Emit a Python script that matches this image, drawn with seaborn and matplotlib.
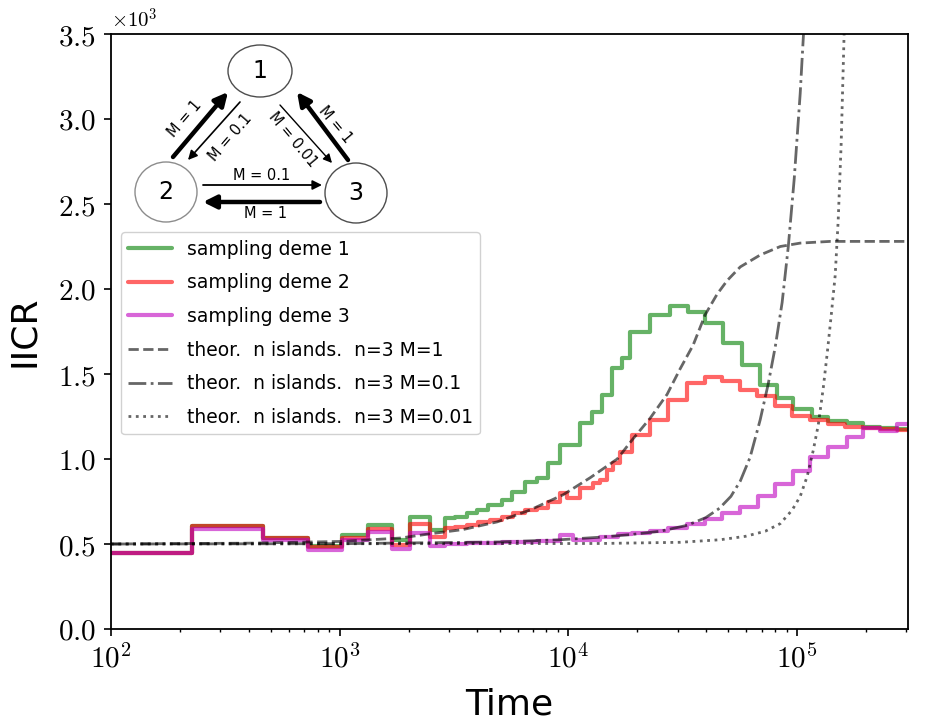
import numpy as np
import matplotlib
matplotlib.use("Agg")
import matplotlib.pyplot as plt
import seaborn as sns
from matplotlib.patches import Ellipse
from matplotlib.ticker import FuncFormatter, NullFormatter, LogLocator

# step curves: bin edges as log10(time), IICR values in units of 10^3
deme1_logt = [2.000, 2.354, 2.665, 2.862, 3.010, 3.124, 3.229, 3.308, 3.395, 3.461,
              3.504, 3.557, 3.601, 3.649, 3.710, 3.754, 3.810, 3.863, 3.911, 3.964,
              4.051, 4.103, 4.147, 4.191, 4.235, 4.270, 4.357, 4.445, 4.523, 4.598,
              4.676, 4.759, 4.838, 4.912, 4.982, 5.066, 5.136, 5.219, 5.289, 5.363,
              5.437, 5.500]
deme1_iicr = [0.447, 0.605, 0.535, 0.490, 0.553, 0.610, 0.524, 0.660, 0.580, 0.653,
              0.660, 0.680, 0.700, 0.730, 0.760, 0.806, 0.865, 0.888, 0.976, 1.082,
              1.210, 1.278, 1.376, 1.533, 1.592, 1.749, 1.847, 1.900, 1.866, 1.798,
              1.680, 1.553, 1.435, 1.360, 1.294, 1.247, 1.224, 1.210, 1.190, 1.180,
              1.175]

deme2_logt = [2.000, 2.354, 2.665, 2.862, 3.010, 3.124, 3.229, 3.308, 3.395, 3.461,
              3.504, 3.557, 3.605, 3.657, 3.710, 3.758, 3.810, 3.863, 3.911, 3.964,
              3.994, 4.051, 4.108, 4.138, 4.169, 4.195, 4.226, 4.278, 4.357, 4.436,
              4.519, 4.598, 4.672, 4.751, 4.825, 4.904, 4.978, 5.057, 5.136, 5.210,
              5.289, 5.363, 5.437, 5.500]
deme2_iicr = [0.447, 0.605, 0.535, 0.485, 0.535, 0.590, 0.494, 0.620, 0.543, 0.593,
              0.600, 0.610, 0.630, 0.640, 0.660, 0.682, 0.700, 0.710, 0.747, 0.800,
              0.770, 0.830, 0.860, 0.876, 0.935, 0.976, 1.040, 1.140, 1.230, 1.347,
              1.447, 1.482, 1.459, 1.405, 1.370, 1.310, 1.253, 1.230, 1.206, 1.190,
              1.180, 1.176, 1.170]

deme3_logt = [2.000, 2.354, 2.665, 2.862, 3.010, 3.124, 3.229, 3.308, 3.395, 3.461,
              3.557, 3.710, 3.863, 3.964, 4.020, 4.138, 4.217, 4.278, 4.357, 4.436,
              4.519, 4.598, 4.672, 4.751, 4.829, 4.904, 4.982, 5.057, 5.136, 5.219,
              5.289, 5.363, 5.437, 5.500]
deme3_iicr = [0.447, 0.590, 0.524, 0.465, 0.524, 0.570, 0.470, 0.563, 0.490, 0.500,
              0.505, 0.510, 0.515, 0.553, 0.525, 0.540, 0.560, 0.567, 0.578, 0.593,
              0.615, 0.645, 0.680, 0.720, 0.780, 0.855, 0.930, 1.010, 1.070, 1.130,
              1.185, 1.165, 1.205]

# theoretical n-island curves
m1_logt = [2.000, 2.608, 3.006, 3.264, 3.395, 3.539, 3.688, 3.832, 3.977, 4.095,
           4.213, 4.283, 4.357, 4.431, 4.488, 4.545, 4.598, 4.650, 4.694, 4.751,
           4.838, 4.926, 5.013, 5.144, 5.500]
m1_iicr = [0.500, 0.505, 0.515, 0.535, 0.560, 0.585, 0.630, 0.700, 0.790, 0.890,
           1.000, 1.120, 1.240, 1.380, 1.530, 1.670, 1.850, 1.970, 2.050, 2.130,
           2.200, 2.250, 2.270, 2.280, 2.280]

m01_logt = [2.000, 3.006, 3.701, 3.964, 4.138, 4.270, 4.401, 4.519, 4.600, 4.660,
            4.710, 4.751, 4.794, 4.838, 4.873, 4.904, 4.934, 4.961, 4.987, 5.013,
            5.044]
m01_iicr = [0.500, 0.502, 0.512, 0.525, 0.540, 0.555, 0.575, 0.610, 0.655, 0.710,
            0.780, 0.870, 1.010, 1.230, 1.440, 1.660, 1.920, 2.250, 2.650, 3.150,
            3.900]

m001_logt = [2.000, 4.138, 4.488, 4.663, 4.773, 4.860, 4.926, 4.978, 5.013, 5.044,
             5.070, 5.092, 5.114, 5.131, 5.149, 5.166, 5.179, 5.192, 5.201, 5.210]
m001_iicr = [0.500, 0.503, 0.510, 0.525, 0.545, 0.575, 0.620, 0.700, 0.780, 0.900,
             1.050, 1.200, 1.420, 1.620, 1.850, 2.080, 2.400, 2.850, 3.300, 3.750]

labels = ["sampling deme 1", "sampling deme 2", "sampling deme 3",
          "theor.  n islands.  n=3 M=1", "theor.  n islands.  n=3 M=0.1",
          "theor.  n islands.  n=3 M=0.01"]

sns.set_style("ticks")
plt.rcParams["font.family"] = ["DejaVu Sans"]
plt.rcParams["mathtext.fontset"] = "cm"
for key in ["text.color", "axes.labelcolor", "xtick.color", "ytick.color"]:
    plt.rcParams[key] = "black"

fig = plt.figure(figsize=(9.36, 7.24), dpi=100)
ax = fig.add_axes([111 / 936, 95 / 724, 797 / 936, 595 / 724])

steps = [(deme1_logt, deme1_iicr, "g"), (deme2_logt, deme2_iicr, "r"),
         (deme3_logt, deme3_iicr, "m")]
for (lt, v, c), lab in zip(steps, labels[:3]):
    sns.lineplot(x=10 ** np.array(lt), y=v + [v[-1]], drawstyle="steps-post",
                 color=c, alpha=0.6, lw=3, label=lab, ax=ax)

theo = [(m1_logt, m1_iicr, "--"), (m01_logt, m01_iicr, "-."),
        (m001_logt, m001_iicr, ":")]
for (lt, v, ls), lab in zip(theo, labels[3:]):
    sns.lineplot(x=10 ** np.array(lt), y=v, color="k", alpha=0.6, lw=2,
                 linestyle=ls, label=lab, ax=ax)

ax.set_xscale("log")
ax.set_xlim(1e2, 3.05e5)
ax.set_ylim(0, 3.5)
ax.set_yticks(np.arange(0, 3.51, 0.5))
ax.yaxis.set_major_formatter(FuncFormatter(lambda v, p: r"$%.1f$" % v))
ax.xaxis.set_major_locator(LogLocator(base=10))
ax.xaxis.set_major_formatter(FuncFormatter(lambda v, p: r"$10^{%d}$" % round(np.log10(v))))
ax.xaxis.set_minor_formatter(NullFormatter())
ax.tick_params(which="major", direction="out", length=5, width=1.2,
               labelsize=21, pad=6, color="k", labelcolor="k")
ax.tick_params(which="minor", direction="out", length=2.5, width=1, color="k")
for s in ax.spines.values():
    s.set_color("k")
    s.set_linewidth(1.3)
    s.set_visible(True)

ax.text(0, 1.004, r"$\times10^{3}$", transform=ax.transAxes, fontsize=15,
        ha="left", va="bottom")
ax.set_xlabel("Time", fontsize=26, labelpad=10)
ax.set_ylabel("IICR", fontsize=26, labelpad=12)

leg = ax.legend(loc="upper left", bbox_to_anchor=(0.0125, 0.667), borderaxespad=0,
                fontsize=13.5, handlelength=2.3, labelspacing=0.78, frameon=True,
                fancybox=True, edgecolor="0.8", framealpha=0.9)
for t in leg.get_texts():
    t.set_color("k")

# migration diagram in the upper-left corner
ins = fig.add_axes([125 / 936, (724 - 232) / 724, 275 / 936, 194 / 724])
ins.set_xlim(125, 400)
ins.set_ylim(232, 38)
ins.axis("off")
for (cx, cy, w, h), num, ec in zip([(260, 71, 64, 52), (166, 192, 62, 60),
                                    (356, 193, 62, 60)], ["1", "2", "3"],
                                   ["0.3", "0.55", "0.3"]):
    ins.add_patch(Ellipse((cx, cy), w, h, fill=False, ec=ec, lw=1))
    ins.text(cx, cy, num, fontsize=17, ha="center", va="center")

arrows = [((173, 157), (228, 92), 3.2), ((240, 102), (188, 160), 1.2),
          ((280, 105), (332, 163), 1.0), ((348, 160), (297, 92), 3.2),
          ((203, 185), (322, 185), 1.3), ((320, 202), (203, 202), 3.2)]
for start, tip, lw in arrows:
    ins.annotate("", xy=tip, xytext=start,
                 arrowprops=dict(arrowstyle="-|>", lw=lw, color="k",
                                 mutation_scale=10 + 3 * lw, shrinkA=0, shrinkB=0))

fs = 10.5
ins.text(185, 119, "M = 1", fontsize=fs, rotation=49, ha="center", va="center")
ins.text(230, 137, "M = 0.1", fontsize=fs, rotation=49, ha="center", va="center")
ins.text(293, 140, "M = 0.01", fontsize=fs, rotation=-50, ha="center", va="center")
ins.text(335, 125, "M = 1", fontsize=fs, rotation=-50, ha="center", va="center")
ins.text(262, 176, "M = 0.1", fontsize=fs, ha="center", va="center")
ins.text(266, 214, "M = 1", fontsize=fs, ha="center", va="center")

fig.savefig("out.png", dpi=100)
